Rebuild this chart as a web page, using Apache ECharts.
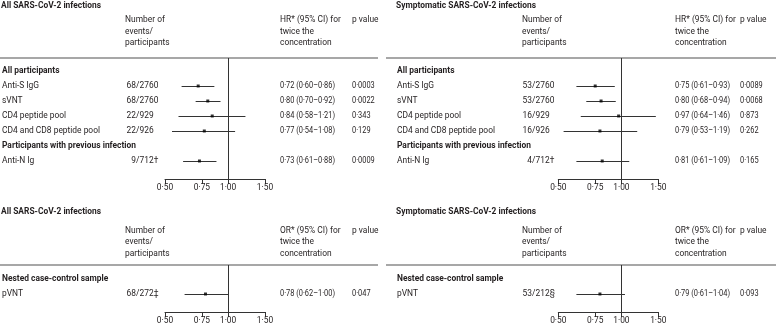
<!DOCTYPE html>
<html>
<head>
<meta charset="utf-8">
<script src="https://cdn.jsdelivr.net/npm/echarts@6/dist/echarts.min.js"></script>
<style>
html, body { margin: 0; padding: 0; background: #fff; }
#chart { width: 776px; height: 327px; }
</style>
</head>
<body>
<div id="chart"></div>
<script>
// 行标签
const itemLabels = ['Anti-S IgG', 'sVNT', 'CD4 peptide pool', 'CD4 and CD8 peptide pool', 'Anti-N Ig'];
const itemRows = [1, 2, 3, 4, 6];
const groupLabels = ['All participants', 'Participants with previous infection'];
const groupRows = [0, 5];

// 全部感染
const allEvents = ['68/2760', '68/2760', '22/929', '22/926', '9/712†'];
const allHR = [0.72, 0.80, 0.84, 0.77, 0.73];
const allLow = [0.60, 0.70, 0.58, 0.54, 0.61];
const allHigh = [0.86, 0.92, 1.21, 1.08, 0.88];
const allP = [0.0003, 0.0022, 0.343, 0.129, 0.0009];

// 有症状感染
const sympEvents = ['53/2760', '53/2760', '16/929', '16/926', '4/712†'];
const sympHR = [0.75, 0.80, 0.97, 0.79, 0.81];
const sympLow = [0.61, 0.68, 0.64, 0.53, 0.61];
const sympHigh = [0.93, 0.94, 1.46, 1.19, 1.09];
const sympP = [0.0089, 0.0068, 0.873, 0.262, 0.165];

// 巢式病例对照
const nestedLabels = ['pVNT'];
const nestedRows = [1];
const nestedGroup = ['Nested case-control sample'];
const nestedGroupRows = [0];
const nestedAllEvents = ['68/272‡'];
const nestedAllOR = [0.78];
const nestedAllLow = [0.62];
const nestedAllHigh = [1.00];
const nestedAllP = [0.047];
const nestedSympEvents = ['53/212§'];
const nestedSympOR = [0.79];
const nestedSympLow = [0.61];
const nestedSympHigh = [1.04];
const nestedSympP = [0.093];

const axisTicks = [0.5, 0.75, 1, 1.5];

const fmt = v => v.toFixed(2).replace('.', '·');
const fmtP = v => String(v).replace('.', '·');

// 参考图字体偏窄：用横向缩放来贴合宽度
function textWidth(font, s) {
  const ctx = document.createElement('canvas').getContext('2d');
  ctx.font = font;
  return ctx.measureText(s).width;
}
const FONT = 'Roboto, "Noto Sans", sans-serif';
const FS = 9.2;
const AXIS_FS = 8.4;
const LABEL_SX = 98 / textWidth(FS + 'px ' + FONT, 'CD4 and CD8 peptide pool');
const NUM_SX = 55 / textWidth(FS + 'px ' + FONT, '0·72 (0·60–0·86)');
const INK = '#231f20';
const LINE = '#333';
const ROW = 15; // 行高

// 四个面板
const panels = [
  { title: 'All SARS-CoV-2 infections', ratio: 'HR', x0: 2, numX: 125, slashX: 136, hrX: 280, pX: 352,
    gridLeft: 165, top: 58, height: 121, firstRow: 71, lineL: 0, lineR: 378, titleY: 6, headY: 20,
    labels: itemLabels, rows: itemRows, groups: groupLabels, groupRows: groupRows,
    events: allEvents, est: allHR, low: allLow, high: allHigh, p: allP },
  { title: 'Symptomatic SARS-CoV-2 infections', ratio: 'HR', x0: 397, numX: 522, slashX: 532, hrX: 675, pX: 740,
    gridLeft: 558.3, top: 58, height: 121, firstRow: 71, lineL: 386, lineR: 776, titleY: 6, headY: 20,
    labels: itemLabels, rows: itemRows, groups: groupLabels, groupRows: groupRows,
    events: sympEvents, est: sympHR, low: sympLow, high: sympHigh, p: sympP },
  { title: 'All SARS-CoV-2 infections', ratio: 'OR', x0: 2, numX: 125, slashX: 136, hrX: 280, pX: 352,
    gridLeft: 165, top: 265, height: 47, firstRow: 279, lineL: 0, lineR: 378, titleY: 212, headY: 230.5,
    labels: nestedLabels, rows: nestedRows, groups: nestedGroup, groupRows: nestedGroupRows,
    events: nestedAllEvents, est: nestedAllOR, low: nestedAllLow, high: nestedAllHigh, p: nestedAllP },
  { title: 'Symptomatic SARS-CoV-2 infections', ratio: 'OR', x0: 397, numX: 522, slashX: 532, hrX: 675, pX: 740,
    gridLeft: 558.3, top: 265, height: 47, firstRow: 279, lineL: 386, lineR: 776, titleY: 212, headY: 230.5,
    labels: nestedLabels, rows: nestedRows, groups: nestedGroup, groupRows: nestedGroupRows,
    events: nestedSympEvents, est: nestedSympOR, low: nestedSympLow, high: nestedSympHigh, p: nestedSympP }
];

const grid = [], xAxis = [], yAxis = [], series = [];

panels.forEach((pn, g) => {
  grid.push({ left: pn.gridLeft, width: 100, top: pn.top, height: pn.height });
  xAxis.push({
    type: 'log', logBase: 10, gridIndex: g, min: 0.5, max: 1.5, position: 'bottom',
    axisLine: { show: true, onZero: false, lineStyle: { color: LINE, width: 1 } },
    axisTick: { show: true, customValues: axisTicks, length: 5, lineStyle: { color: LINE, width: 1 } },
    axisLabel: { customValues: axisTicks, formatter: v => fmt(v), fontSize: AXIS_FS, fontFamily: FONT, color: INK, margin: 5 },
    splitLine: { show: false }
  });
  const yMin = -(pn.firstRow - pn.top) / ROW;
  yAxis.push({ type: 'value', gridIndex: g, inverse: true, min: yMin, max: yMin + pn.height / ROW, show: false });

  // 置信区间
  series.push({
    type: 'custom', xAxisIndex: g, yAxisIndex: g, silent: true,
    data: pn.rows.map((r, i) => [r, pn.low[i], pn.high[i]]),
    encode: { x: [1, 2], y: 0 },
    renderItem(params, api) {
      const a = api.coord([api.value(1), api.value(0)]);
      const b = api.coord([api.value(2), api.value(0)]);
      const y = Math.floor(a[1]) + 0.5;
      return { type: 'line', shape: { x1: a[0], y1: y, x2: b[0], y2: y }, style: { stroke: LINE, lineWidth: 1 } };
    }
  });
  // 点估计 + 参考线
  series.push({
    type: 'scatter', xAxisIndex: g, yAxisIndex: g, silent: true,
    symbol: 'rect', symbolSize: 3, itemStyle: { color: '#000' },
    data: pn.rows.map((r, i) => [pn.est[i], r]),
    markLine: {
      silent: true, symbol: ['none', 'none'], label: { show: false },
      lineStyle: { color: LINE, width: 1, type: 'solid' },
      data: [{ xAxis: 1 }]
    }
  });
});

const chart = echarts.init(document.getElementById('chart'), null, { renderer: 'canvas' });
chart.setOption({ animation: false, grid, xAxis, yAxis, series });

// 文字
function txt(x, y, s, sx, extra) {
  return {
    type: 'text', x, y, scaleX: sx, silent: true,
    style: Object.assign({ text: s, fill: INK, fontSize: FS, fontFamily: FONT, align: 'left', verticalAlign: 'middle' }, extra || {})
  };
}

const els = [];
panels.forEach((pn, g) => {
  const rowY = r => chart.convertToPixel({ gridIndex: g }, [1, r])[1];
  const h = pn.headY;
  els.push(txt(pn.x0 - 1, pn.titleY, pn.title, LABEL_SX, { fontWeight: 'bold' }));
  ['Number of', 'events/', 'participants'].forEach((s, k) => els.push(txt(pn.numX, h + k * 11.5, s, LABEL_SX)));
  [pn.ratio + '* (95% CI) for', 'twice the', 'concentration'].forEach((s, k) => els.push(txt(pn.hrX, h + k * 11.5, s, LABEL_SX)));
  els.push(txt(pn.pX, h, 'p value', LABEL_SX));
  els.push({ type: 'line', silent: true, shape: { x1: pn.lineL, y1: pn.top, x2: pn.lineR, y2: pn.top }, style: { stroke: '#8a8a8a', lineWidth: 1.5 } });

  pn.groups.forEach((s, i) => els.push(txt(pn.x0, rowY(pn.groupRows[i]), s, LABEL_SX, { fontWeight: 'bold' })));
  pn.labels.forEach((s, i) => {
    const y = rowY(pn.rows[i]);
    const parts = pn.events[i].split('/');
    els.push(txt(pn.x0, y, s, LABEL_SX));
    els.push(txt(pn.slashX, y, parts[0], LABEL_SX, { align: 'right' }));
    els.push(txt(pn.slashX, y, '/' + parts[1], LABEL_SX));
    els.push(txt(pn.hrX, y, fmt(pn.est[i]) + ' (' + fmt(pn.low[i]) + '–' + fmt(pn.high[i]) + ')', NUM_SX));
    els.push(txt(pn.pX, y, fmtP(pn.p[i]), NUM_SX));
  });
});

chart.setOption({ graphic: { elements: els } });
</script>
</body>
</html>
